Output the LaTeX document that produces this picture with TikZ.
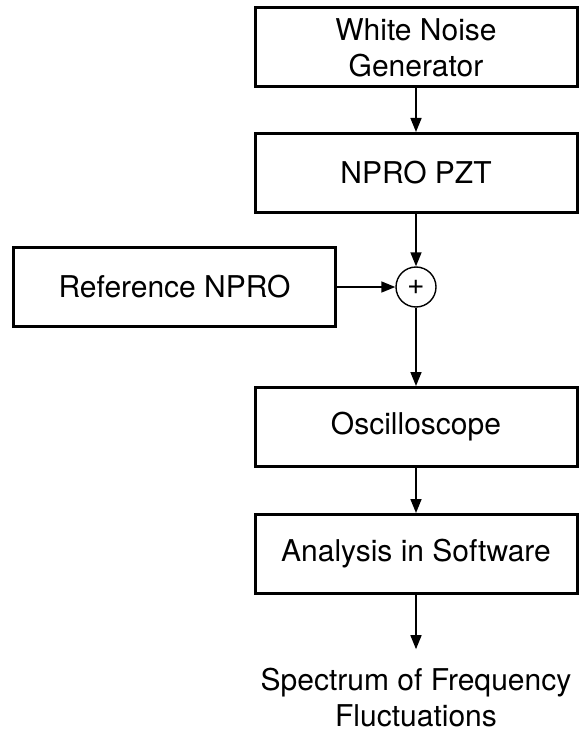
\documentclass[tikz,border=0pt]{standalone}
\usepackage{fontspec}
\setmainfont{TeX Gyre Heros}
\usepackage{tikz}
\usetikzlibrary{arrows.meta,positioning}

\begin{document}
\begin{tikzpicture}[
    x=0.5pt, y=-0.5pt,
    box/.style={draw, line width=1.5pt, minimum width=161pt, minimum height=39.5pt, align=center, inner sep=0pt, font=\fontsize{15}{18}\selectfont},
    sumnode/.style={draw, circle, line width=0.7pt, minimum size=20pt, inner sep=0pt, font=\fontsize{15}{18}\selectfont},
    arr/.style={-{Triangle[length=7pt,width=5.5pt]}, line width=0.8pt}
]
\useasboundingbox (0,0) rectangle (581,733);

\node[box] (wng) at (416,47.5) {White Noise\\Generator};
\node[box] (pzt) at (416,173) {NPRO PZT};
\node[box] (ref) at (174.5,287) {Reference NPRO};
\node[sumnode] (sum) at (416,287) {+};
\node[box] (osc) at (416,427) {Oscilloscope};
\node[box] (ana) at (416,554) {Analysis in Software};
\node[align=center, inner xsep=0pt, inner ysep=9.5pt, font=\fontsize{15}{18}\selectfont] (spec) at (416,698) {Spectrum of Frequency\\Fluctuations};

\draw[arr] (wng) -- (pzt);
\draw[arr] (pzt) -- (sum);
\draw[arr] (ref) -- (sum);
\draw[arr] (sum) -- (osc);
\draw[arr] (osc) -- (ana);
\draw[arr] (ana) -- (spec);
\end{tikzpicture}
\end{document}
